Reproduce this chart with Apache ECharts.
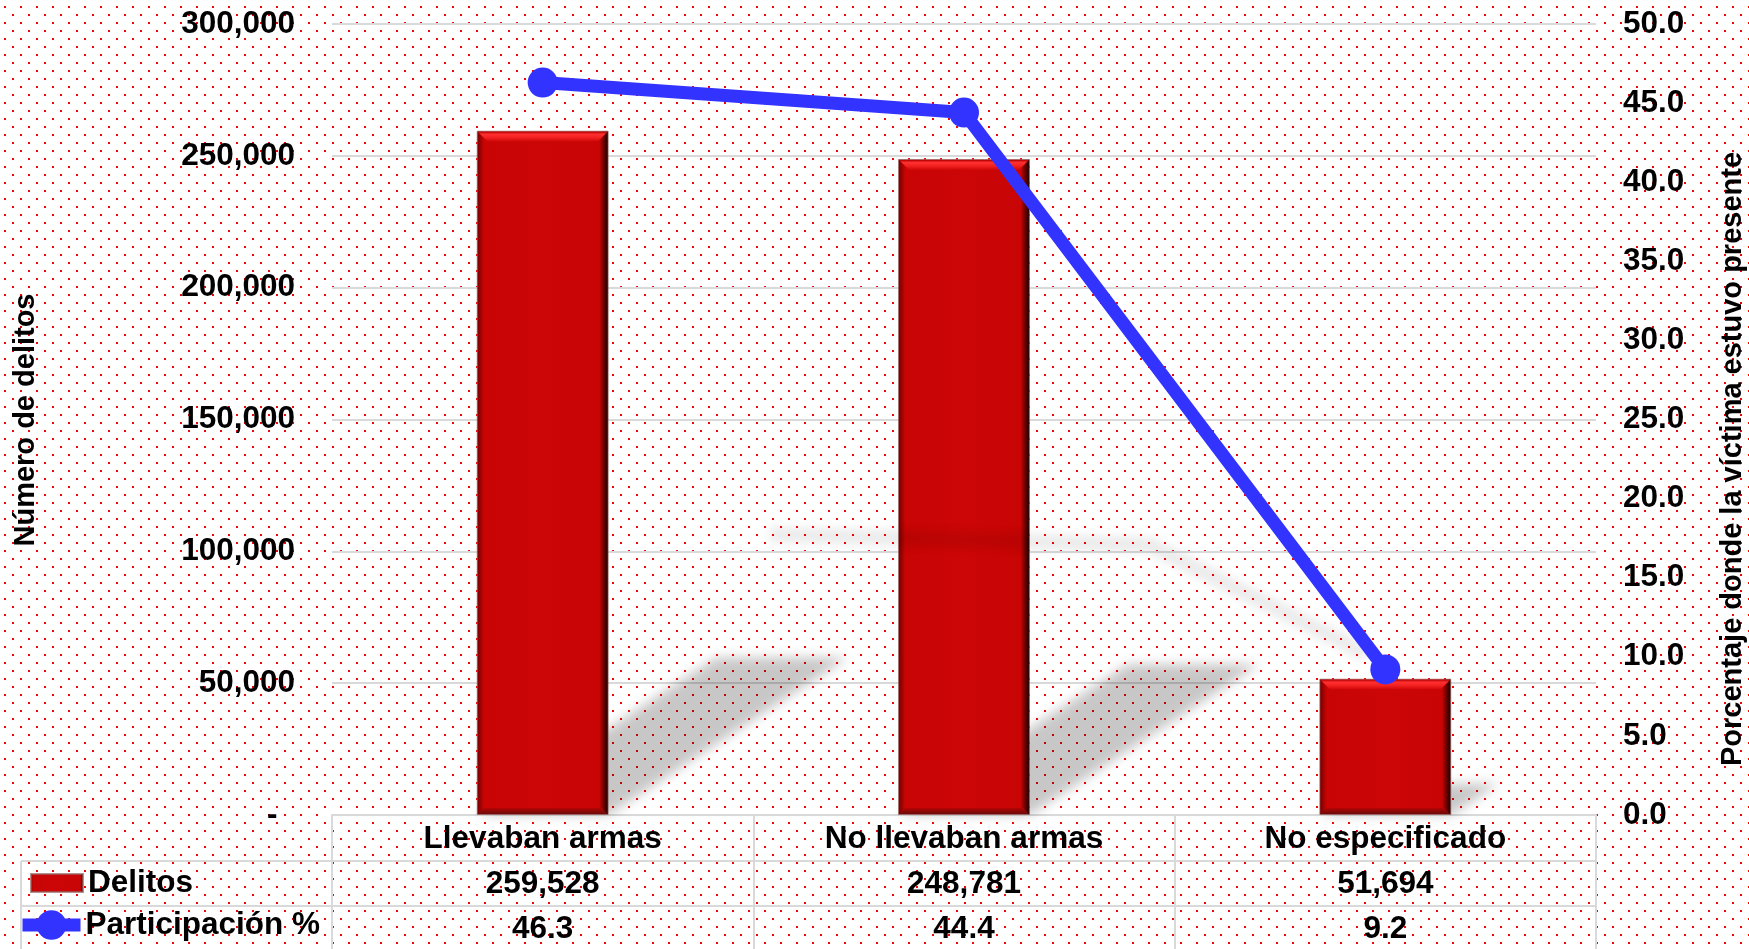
<!DOCTYPE html>
<html><head><meta charset="utf-8">
<script src="https://cdn.jsdelivr.net/npm/echarts@6/dist/echarts.min.js"></script>
<style>html,body{margin:0;padding:0;background:#fff}#c{width:1749px;height:949px}</style>
</head><body><div id="c"></div>
<script>
// ---- data ----
const categories = ['Llevaban armas', 'No llevaban armas', 'No especificado'];
const delitos = [259528, 248781, 51694];
const participacion = [46.3, 44.4, 9.2];
const seriesNames = ['Delitos', 'Participación %'];
const leftTicks = { min: 0, max: 300000, step: 50000 };
const rightTicks = { min: 0, max: 50, step: 5 };
const leftAxisTitle = 'Número de delitos';
const rightAxisTitle = 'Porcentaje donde la víctima estuvo presente';

// ---- styles ----
const FONT = "'Liberation Sans', Arial, sans-serif";
const FS = 31.5;
const GRIDC = '#d9d9d9';
const BAR_FRAC = 0.313;
const BLUE = '#3333ff';
const OFF = 4000;

const tile = document.createElement('canvas');
tile.width = 16; tile.height = 16;
const tctx = tile.getContext('2d');
tctx.fillStyle = '#ffffff'; tctx.fillRect(0, 0, 16, 16);
tctx.fillStyle = '#ff0000'; tctx.fillRect(4, 6, 2, 2); tctx.fillRect(12, 14, 2, 2);

const fmt = v => v.toLocaleString('en-US');
const chart = echarts.init(document.getElementById('c'));

const barGradient = new echarts.graphic.LinearGradient(0, 0, 1, 0, [
  { offset: 0, color: '#6e0000' },
  { offset: 0.055, color: '#c80404' },
  { offset: 0.5, color: '#cc0606' },
  { offset: 0.93, color: '#c80404' },
  { offset: 0.97, color: '#5a0000' },
  { offset: 1, color: '#150000' }
]);

function barGeom(api, idx, val) {
  const top = api.coord([idx, val]);
  const base = api.coord([idx, 0]);
  const w = api.size([1, 0])[0] * BAR_FRAC;
  return { x0: top[0] - w / 2, x1: top[0] + w / 2, yt: top[1], yb: base[1] };
}

const labelStyle = { fontFamily: FONT, fontWeight: 'bold', fontSize: FS, color: '#000' };

const option = {
  backgroundColor: { image: tile, repeat: 'repeat' },
  animation: false,
  textStyle: { fontFamily: FONT, fontWeight: 'bold', color: '#000' },
  grid: { left: 332, right: 153, top: 24, bottom: 134, containLabel: false, outerBoundsMode: 'none' },
  legend: [
    { data: [{ name: seriesNames[0], icon: 'rect' }], left: 30, top: 867, padding: 0,
      itemWidth: 52, itemHeight: 18, textStyle: labelStyle },
    { data: [{ name: seriesNames[1] }], left: 16, top: 909, padding: 0,
      itemWidth: 58, itemHeight: 37, lineStyle: { width: 13 }, textStyle: labelStyle }
  ],
  xAxis: {
    type: 'category', data: categories,
    axisLine: { show: true, lineStyle: { color: GRIDC, width: 2 } },
    axisTick: { show: true, length: 135, interval: 0, lineStyle: { color: GRIDC, width: 2 } },
    axisLabel: {
      interval: 0, margin: 2,
      formatter: (value, index) => '{c|' + value + '}\n{v|' + fmt(delitos[index]) + '}\n{p|' + participacion[index].toFixed(1) + '}',
      rich: {
        c: Object.assign({ lineHeight: 45 }, labelStyle),
        v: Object.assign({ lineHeight: 45 }, labelStyle),
        p: Object.assign({ lineHeight: 45 }, labelStyle)
      }
    }
  },
  yAxis: [
    { type: 'value', min: leftTicks.min, max: leftTicks.max, interval: leftTicks.step,
      axisLine: { show: false }, axisTick: { show: false },
      splitLine: { show: true, lineStyle: { color: GRIDC, width: 2 } },
      axisLabel: Object.assign({ margin: 37,
        formatter: v => v === 0 ? '-\u00a0\u00a0' : fmt(v) }, labelStyle) },
    { type: 'value', min: rightTicks.min, max: rightTicks.max, interval: rightTicks.step,
      axisLine: { show: false }, axisTick: { show: false }, splitLine: { show: false },
      axisLabel: Object.assign({ margin: 27,
        formatter: v => v.toFixed(1) }, labelStyle) }
  ],
  graphic: [
    { type: 'text', x: 26, y: 420, rotation: Math.PI / 2, z: 10,
      style: { text: leftAxisTitle, font: 'bold 29px ' + FONT, fill: '#000', align: 'center', verticalAlign: 'middle' } },
    { type: 'text', x: 1733, y: 459, rotation: Math.PI / 2, z: 10,
      style: { text: rightAxisTitle, font: 'bold 29px ' + FONT, fill: '#000', align: 'center', verticalAlign: 'middle' } },
    { type: 'line', shape: { x1: 21, y1: 861, x2: 1596, y2: 861 }, style: { stroke: GRIDC, lineWidth: 2 }, z: 10 },
    { type: 'line', shape: { x1: 21, y1: 906, x2: 1596, y2: 906 }, style: { stroke: GRIDC, lineWidth: 2 }, z: 10 },
    { type: 'line', shape: { x1: 21, y1: 861, x2: 21, y2: 949 }, style: { stroke: GRIDC, lineWidth: 2 }, z: 10 }
  ],
  series: [
    { // bar shadows
      type: 'custom', name: 'barShadow', z: 1, silent: true, clip: false,
      data: delitos.map((v, i) => [i, v]),
      renderItem: (params, api) => {
        const g = barGeom(api, api.value(0), api.value(1));
        const H = g.yb - g.yt, a = 0.35, b = 0.23;
        const pts = [[g.x0, g.yb], [g.x1, g.yb], [g.x1 + a * H, g.yb - b * H], [g.x0 + a * H, g.yb - b * H]]
          .map(p => [p[0] - OFF, p[1]]);
        return { type: 'polygon', shape: { points: pts },
          style: { fill: '#000', shadowColor: 'rgba(0,0,0,0.22)', shadowBlur: 12, shadowOffsetX: OFF } };
      }
    },
    {
      type: 'bar', name: seriesNames[0], data: delitos, barWidth: (BAR_FRAC * 100) + '%', z: 2,
      itemStyle: { color: barGradient, borderColor: 'rgba(150,100,100,0.7)', borderWidth: 1 }
    },
    { // bevel overlay
      type: 'custom', name: 'bevel', z: 3, silent: true, clip: false,
      data: delitos.map((v, i) => [i, v]),
      renderItem: (params, api) => {
        const g = barGeom(api, api.value(0), api.value(1));
        const t = 11, bt = 7;
        return { type: 'group', children: [
          { type: 'polygon', shape: { points: [[g.x0 + 1, g.yt + 1], [g.x1 - 1, g.yt + 1], [g.x1 - t, g.yt + t], [g.x0 + t, g.yt + t]] },
            style: { fill: new echarts.graphic.LinearGradient(0, 0, 0, 1, [
              { offset: 0, color: '#b00000' }, { offset: 0.25, color: '#ff3030' },
              { offset: 0.6, color: '#f22020' }, { offset: 1, color: '#cc0606' }]) } },
          { type: 'polygon', shape: { points: [[g.x0 + bt, g.yb - bt], [g.x1 - bt, g.yb - bt], [g.x1 - 1, g.yb - 1], [g.x0 + 1, g.yb - 1]] },
            style: { fill: new echarts.graphic.LinearGradient(0, 0, 0, 1, [
              { offset: 0, color: '#b40404' }, { offset: 1, color: '#6a0a0a' }]) } }
        ] };
      }
    },
    { // line shadow
      type: 'custom', name: 'lineShadow', z: 4, silent: true, clip: false, yAxisIndex: 1,
      data: participacion.map((v, i) => [i, v]),
      renderItem: (params, api) => {
        if (params.dataIndex !== 0) return null;
        const pts = participacion.map((v, i) => {
          const p = api.coord([i, v]);
          return [0.923 * p[0] - 0.307 * p[1] + 294 - OFF, 0.011 * p[0] + 0.188 * p[1] + 513];
        });
        return { type: 'polyline', shape: { points: pts },
          style: { stroke: '#000', lineWidth: 16, fill: null, lineJoin: 'round',
            shadowColor: 'rgba(0,0,0,0.08)', shadowBlur: 10, shadowOffsetX: OFF } };
      }
    },
    {
      type: 'line', name: seriesNames[1], yAxisIndex: 1, data: participacion, z: 5,
      symbol: 'circle', symbolSize: 30, showSymbol: true,
      lineStyle: { color: BLUE, width: 13 },
      itemStyle: { color: BLUE }
    }
  ]
};
chart.setOption(option);
</script></body></html>
